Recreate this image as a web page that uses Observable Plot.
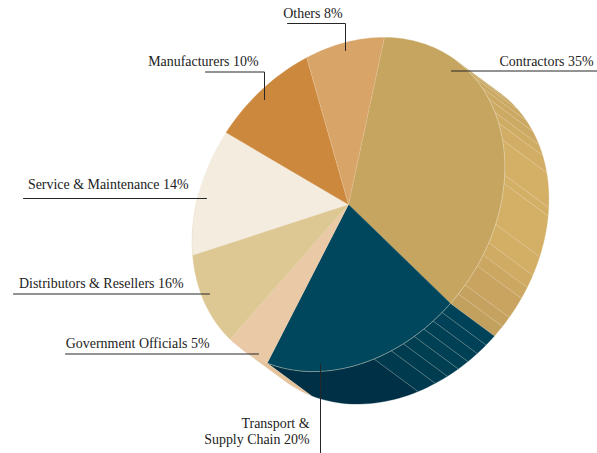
<!DOCTYPE html>
<html>
<head>
<meta charset="utf-8">
<style>
  html, body { margin: 0; padding: 0; background: #fff; }
  svg { display: block; }
</style>
<script src="https://cdn.jsdelivr.net/npm/d3@7"></script>
<script src="https://cdn.jsdelivr.net/npm/@observablehq/plot@0.6"></script>
</head>
<body>
<script>
// Stakeholder shares, as printed on the labels.
const categories = ["Contractors", "Transport & Supply Chain", "Government Officials",
  "Distributors & Resellers", "Service & Maintenance", "Manufacturers", "Others"];
const shares = [35, 20, 5, 16, 14, 10, 8];
// The printed shares add up to 108, so part of two wedges sits beneath the next one.
const tucked = [0, 0, 0, 6, 2, 0, 0];
const faceColors = ["#c5a55f", "#00465c", "#e9c9a6", "#ddc893", "#f4ecdf", "#cc883d", "#d9a468"];

// Edge of the disc: band boundaries, in percent of the way round, and each band's colour.
const edgeBreaks = [8.39, 9.8, 11.1, 12.6, 14, 15.6, 16.8, 18.6, 22.1, 22.9, 26.8, 28.6,
  29.8, 30.9, 32.9, 33.9, 35, 36.1, 37.2, 38.3, 39.4, 40.6, 41.9, 43.7, 55, 58.39];
const edgeColors = ["#c6a661", "#c8a862", "#caa963", "#cba963", "#cdaa63", "#cfac64", "#d1ad65",
  "#d4af66", "#d4af66", "#d4af66", "#d3ae65", "#cfab63", "#cba761", "#c8a460", "#c5a25f", "#c2a05e",
  "#004258", "#004157", "#004055", "#004054", "#003e52", "#003c50", "#003a4e", "#003046", "#e5c39c"];
const hatchBreaks = edgeBreaks.slice(1, 24);

// Where each label and its leader line sit on the page.
const page = {cx: 348, cy: 204, width: 597, height: 453};
const labelLayout = [
  {text: "Contractors 35%", x: 593, y: 65.5, leader: [[451, 70.5], [597, 70.5]]},
  {text: "Transport &\nSupply Chain 20%", x: 309, y: 443.5, leader: [[320, 364], [320, 453]]},
  {text: "Government Officials 5%", x: 209, y: 347, leader: [[65, 353.5], [258, 353.5]]},
  {text: "Distributors & Resellers 16%", x: 183, y: 287.5, leader: [[13, 293.5], [209, 293.5]]},
  {text: "Service & Maintenance 14%", x: 188, y: 188, leader: [[23, 198], [206, 198]]},
  {text: "Manufacturers 10%", x: 258, y: 65.5, leader: [[205, 71.5], [264, 71.5], [264, 99]]},
  {text: "Others 8%", x: 342, y: 17.5, leader: [[287, 23], [345, 23], [345, 50]]}
];

// The disc is a circle seen at a tilt: a long and a short axis, turned on the page,
// with the thickness running along the short axis.
const shortAxis = {r: 141.6, ux: 0.801, uy: 0.599};
const longAxis = {r: 179.7, ux: 0.599, uy: -0.801};
const depth = {dx: 44, dy: 32.5};
const startAngle = 120.2;

function rim(percent) {
  const a = (startAngle - percent * 3.6) * Math.PI / 180;
  const s = Math.cos(a) * shortAxis.r, l = Math.sin(a) * longAxis.r;
  return {x: s * shortAxis.ux + l * longAxis.ux, y: s * shortAxis.uy + l * longAxis.uy};
}
function arc(from, to) {
  const n = Math.max(2, Math.ceil(Math.abs(to - from) * 2));
  return d3.range(n + 1).map(i => rim(from + (to - from) * i / n));
}
const pushed = p => ({x: p.x + depth.dx, y: p.y + depth.dy});

// Running start of every wedge.
let running = 0;
const wedges = categories.map((name, i) => {
  const from = running;
  running += shares[i] - tucked[i];
  return {name, from, to: from + shares[i], color: faceColors[i]};
});

const polygon = (points, fill) =>
  Plot.line(points, {x: "x", y: "y", fill, stroke: fill, strokeWidth: 0.3});

const edgeBands = edgeColors.map((color, i) => {
  const a = arc(edgeBreaks[i], edgeBreaks[i + 1]);
  return polygon([...a, ...a.map(pushed).reverse()], color);
});
const hatchLines = hatchBreaks.map(p => Plot.line([rim(p), pushed(rim(p))], {
  x: "x", y: "y", stroke: "#f0e6cf", strokeOpacity: 0.32, strokeWidth: 0.7
}));
const wedgeFaces = wedges.map(w => polygon([{x: 0, y: 0}, ...arc(w.from, w.to)], w.color));
const paleSeams = [wedges[5].to, 100].map(p => Plot.line([{x: 0, y: 0}, rim(p)], {
  x: "x", y: "y", stroke: "#f0dcb9", strokeOpacity: 0.35, strokeWidth: 0.7
}));
const rimLine = Plot.line(arc(edgeBreaks[0], wedges[2].from), {
  x: "x", y: "y", stroke: "#f3e8cf", strokeOpacity: 0.55, strokeWidth: 0.8
});

const toData = ([x, y]) => ({x: x - page.cx, y: y - page.cy});
const leaders = labelLayout.map(l => Plot.line(l.leader.map(toData), {
  x: "x", y: "y", stroke: "#262626", strokeWidth: 1
}));
const labels = Plot.text(labelLayout, {
  x: d => d.x - page.cx,
  y: d => d.y - page.cy,
  text: "text",
  textAnchor: "end",
  lineAnchor: "bottom",
  lineHeight: 1.15,
  fontFamily: "Liberation Serif",
  fontSize: 13.95,
  fill: "#222"
});

const chart = Plot.plot({
  width: page.width,
  height: page.height,
  margin: 0,
  x: {axis: null, domain: [-page.cx, page.width - page.cx], range: [0, page.width]},
  y: {axis: null, domain: [-page.cy, page.height - page.cy], range: [0, page.height]},
  marks: [...edgeBands, ...hatchLines, ...wedgeFaces, ...paleSeams, rimLine, ...leaders, labels]
});
document.body.appendChild(chart);
</script>
</body>
</html>
